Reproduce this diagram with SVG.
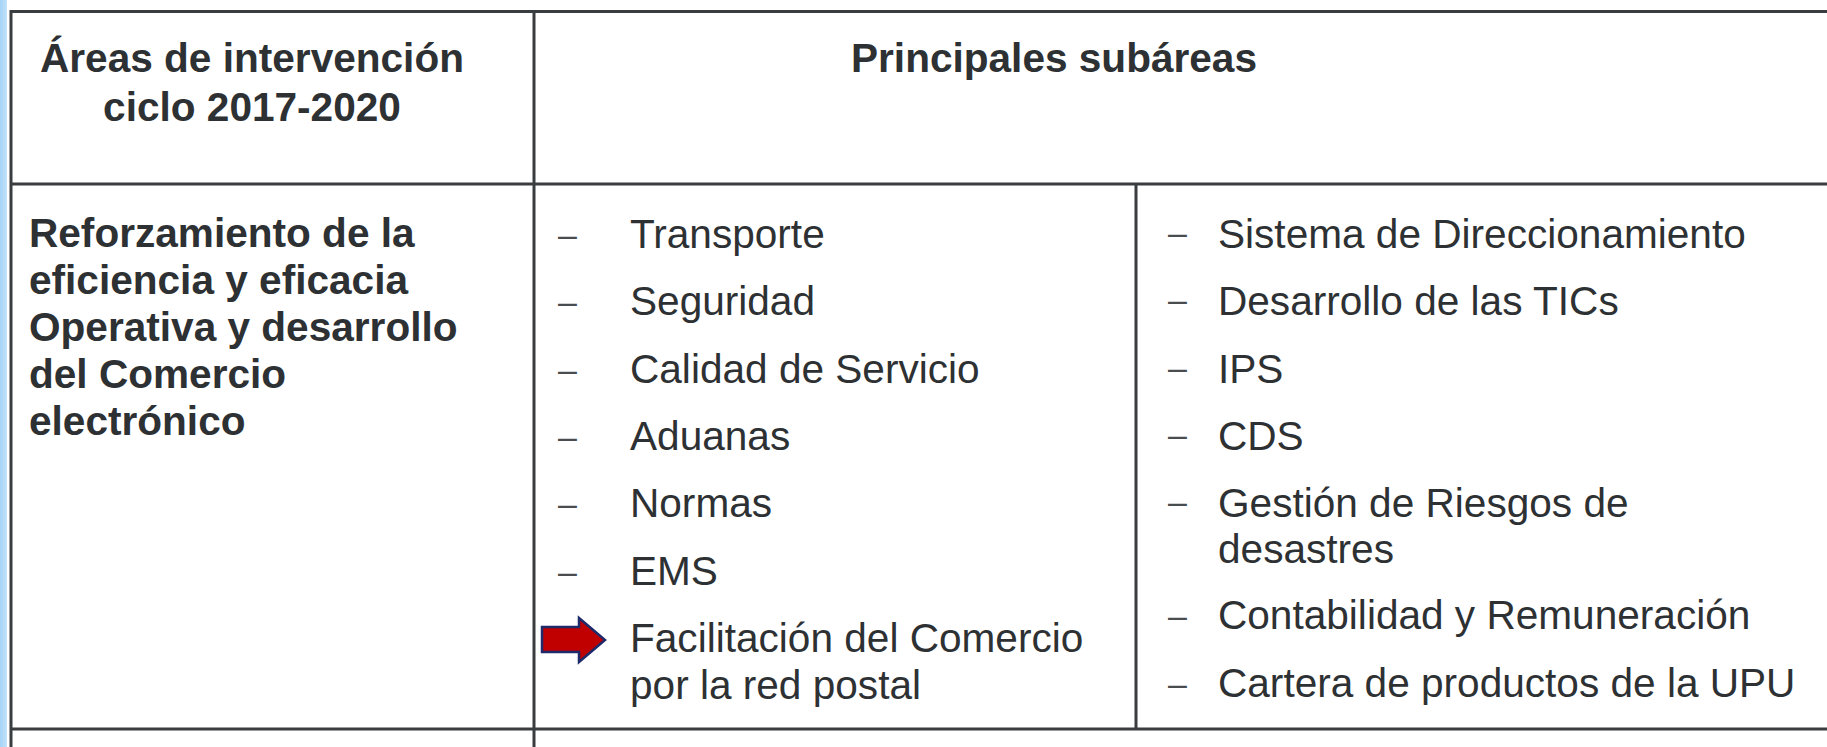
<svg xmlns="http://www.w3.org/2000/svg" width="1827" height="747" viewBox="0 0 1827 747">
<defs>
<linearGradient id="strip" x1="0" y1="0" x2="1" y2="0">
<stop offset="0" stop-color="#a6d4f7"/>
<stop offset="1" stop-color="#c2e2fb"/>
</linearGradient>
</defs>
<style>
.t{font-family:"Liberation Sans",Arial,sans-serif;font-size:40.6px;fill:#2e3133}
.b{font-weight:bold}
.d{font-family:"Liberation Sans",Arial,sans-serif;font-size:34px;fill:#4a4d4f}
.ln{stroke:#3a3d3f;stroke-width:3;fill:none}
</style>
<rect width="1827" height="747" fill="#ffffff"/>
<rect x="0" y="0" width="7" height="747" fill="url(#strip)"/>
<g id="grid">
<line class="ln" x1="11" y1="11.5" x2="1827" y2="11.5"/>
<line class="ln" x1="11" y1="184" x2="1827" y2="184"/>
<line class="ln" x1="11" y1="729" x2="1827" y2="729"/>
<line class="ln" x1="11" y1="10" x2="11" y2="747"/>
<line class="ln" x1="534" y1="10" x2="534" y2="747"/>
<line class="ln" x1="1136" y1="184" x2="1136" y2="729"/>
</g>
<g id="header-areas">
<text class="t b" x="252" y="72" text-anchor="middle">Áreas de intervención</text>
<text class="t b" x="252" y="121" text-anchor="middle">ciclo 2017-2020</text>
</g>
<g id="header-subareas">
<text class="t b" x="1054" y="72" text-anchor="middle">Principales subáreas</text>
</g>
<g id="area-1">
<text class="t b" x="29" y="247">Reforzamiento de la</text>
<text class="t b" x="29" y="294">eficiencia y eficacia</text>
<text class="t b" x="29" y="341">Operativa y desarrollo</text>
<text class="t b" x="29" y="388">del Comercio</text>
<text class="t b" x="29" y="435">electrónico</text>
</g>
<g id="subareas-a">
<text class="d" x="558" y="246">–</text><text class="t" x="630" y="248">Transporte</text>
<text class="d" x="558" y="313">–</text><text class="t" x="630" y="315">Seguridad</text>
<text class="d" x="558" y="381">–</text><text class="t" x="630" y="383">Calidad de Servicio</text>
<text class="d" x="558" y="448">–</text><text class="t" x="630" y="450">Aduanas</text>
<text class="d" x="558" y="515">–</text><text class="t" x="630" y="517">Normas</text>
<text class="d" x="558" y="583">–</text><text class="t" x="630" y="585">EMS</text>
<text class="t" x="630" y="652">Facilitación del Comercio</text>
<text class="t" x="630" y="699">por la red postal</text>
</g>
<g id="arrow">
<polygon points="542,627 579,627 579,618 605,640 579,662 579,652 542,652" fill="#c00000" stroke="#1f2a6b" stroke-width="2.5" stroke-linejoin="miter"/>
</g>
<g id="subareas-b">
<text class="d" x="1168" y="244">–</text><text class="t" x="1218" y="248">Sistema de Direccionamiento</text>
<text class="d" x="1168" y="311">–</text><text class="t" x="1218" y="315">Desarrollo de las TICs</text>
<text class="d" x="1168" y="379">–</text><text class="t" x="1218" y="383">IPS</text>
<text class="d" x="1168" y="446">–</text><text class="t" x="1218" y="450">CDS</text>
<text class="d" x="1168" y="513">–</text><text class="t" x="1218" y="517">Gestión de Riesgos de</text>
<text class="t" x="1218" y="563">desastres</text>
<text class="d" x="1168" y="627">–</text><text class="t" x="1218" y="629">Contabilidad y Remuneración</text>
<text class="d" x="1168" y="695">–</text><text class="t" x="1218" y="697">Cartera de productos de la UPU</text>
</g>
</svg>
